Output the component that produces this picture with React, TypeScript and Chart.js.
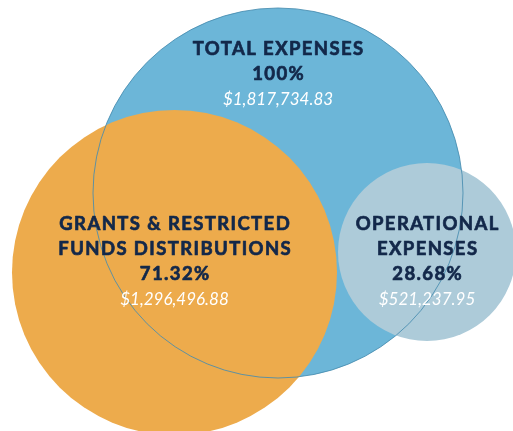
import React, { useEffect, useRef } from "react";
import { Chart, registerables } from "chart.js";

Chart.register(...registerables);

// Data
const categories = ["TOTAL EXPENSES", "GRANTS & RESTRICTED FUNDS DISTRIBUTIONS", "OPERATIONAL EXPENSES"];
const labelLines = [["TOTAL EXPENSES"], ["GRANTS & RESTRICTED", "FUNDS DISTRIBUTIONS"], ["OPERATIONAL", "EXPENSES"]];
const percents = ["100%", "71.32%", "28.68%"];
const amounts = ["$1,817,734.83", "$1,296,496.88", "$521,237.95"];

// Layout of the bubbles (canvas units)
const bubbleX = [278, 174.5, 427];
const bubbleY = [193, 272.5, 252];
const bubbleR = [185, 162.5, 89];
const textTopY = [49, 224, 224];

const colors = ["#6cb6d8", "#edab4c", "#adcbd9"];

const W = 513;
const H = 431;

export default function App() {
  const ref = useRef<HTMLCanvasElement | null>(null);
  useEffect(() => {
    document.body.style.margin = "0";
    const canvas = ref.current!;
    const textPlugin = {
      id: "vennText",
      afterDatasetsDraw(chart: any) {
        const ctx = chart.ctx;
        const xs = chart.scales.x;
        const ys = chart.scales.y;
        ctx.save();
        ctx.textAlign = "center";
        ctx.textBaseline = "middle";
        ctx.lineJoin = "round";
        for (let i = 0; i < categories.length; i++) {
          const cx = xs.getPixelForValue(bubbleX[i]);
          let y = ys.getPixelForValue(textTopY[i]);
          ctx.fillStyle = "#13284a";
          ctx.strokeStyle = "#13284a";
          ctx.lineWidth = 0.7;
          ctx.font = "bold 18.5px Lato";
          (ctx as any).letterSpacing = "1.4px";
          const bold = [...labelLines[i], percents[i]];
          for (const line of bold) {
            ctx.fillText(line, cx + 0.7, y);
            ctx.strokeText(line, cx + 0.7, y);
            y += 25.2;
          }
          y += 0.3;
          ctx.fillStyle = "#ffffff";
          ctx.font = "italic 400 17px Lato";
          (ctx as any).letterSpacing = "0px";
          ctx.fillText(amounts[i], cx, y);
        }
        ctx.restore();
      },
    };
    const chart = new Chart(canvas, {
      type: "bubble",
      data: {
        datasets: [
          {
            label: categories[0],
            data: [{ x: bubbleX[0], y: bubbleY[0], r: bubbleR[0] }],
            backgroundColor: colors[0],
            borderWidth: 0,
            order: 4,
            clip: false,
          },
          {
            label: categories[1],
            data: [{ x: bubbleX[1], y: bubbleY[1], r: bubbleR[1] }],
            backgroundColor: colors[1],
            borderWidth: 0,
            order: 3,
            clip: false,
          },
          {
            label: categories[2],
            data: [{ x: bubbleX[2], y: bubbleY[2], r: bubbleR[2] }],
            backgroundColor: colors[2],
            borderWidth: 0,
            order: 2,
            clip: false,
          },
          {
            label: "outline",
            data: [{ x: bubbleX[0], y: bubbleY[0], r: bubbleR[0] }],
            backgroundColor: "rgba(0,0,0,0)",
            borderColor: "rgba(70,140,175,0.85)",
            borderWidth: 1,
            order: 1,
            clip: false,
          },
        ],
      },
      options: {
        animation: false,
        responsive: false,
        maintainAspectRatio: false,
        layout: { padding: 0, autoPadding: false },
        events: [],
        plugins: { legend: { display: false }, tooltip: { enabled: false } },
        scales: {
          x: { type: "linear", min: 0, max: W, display: false },
          y: { type: "linear", min: 0, max: H, reverse: true, display: false },
        },
      },
      plugins: [textPlugin],
    } as any);
    return () => chart.destroy();
  }, []);
  return (
    <div style={{ position: "absolute", left: 0, top: 0, width: W, height: H, background: "#fff" }}>
      <canvas ref={ref} width={W} height={H} style={{ width: W, height: H, display: "block" }} />
    </div>
  );
}
